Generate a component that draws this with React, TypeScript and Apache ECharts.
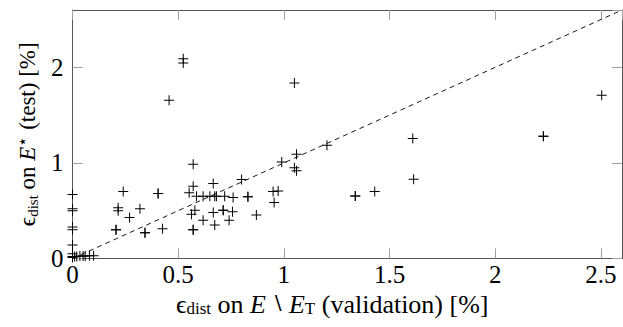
import React, { useEffect, useRef } from "react";
import * as echarts from "echarts";

// Validation error (x) and test error (y), in %
const valErr: number[] = [
  0.524, 0.524, 0.457, 1.05, 2.504, 2.228, 2.228, 1.61, 1.614, 1.204,
  0.99, 1.06, 1.05, 1.06, 0.949, 0.973, 0.954, 0.87, 1.338, 1.338,
  1.43, 0.8, 0.83, 0.83,
  0.571, 0.571, 0.666, 0.405, 0.405, 0.552, 0.587, 0.618, 0.65, 0.673,
  0.681, 0.72, 0.76, 0.579, 0.563, 0.666, 0.713, 0.713, 0.757, 0.618,
  0.673, 0.741, 0.571, 0.571, 0.426,
  0.24, 0.216, 0.216, 0.319, 0.27, 0.206, 0.206, 0.343, 0.343,
  0, 0, 0, 0, 0, 0, 0, 0, 0, 0.01, 0.02,
  0.035, 0.05, 0.06, 0.08, 0.1,
];
const testErr: number[] = [
  2.09, 2.045, 1.655, 1.835, 1.707, 1.28, 1.28, 1.255, 0.83, 1.185,
  1.01, 1.09, 0.95, 0.917, 0.7, 0.705, 0.586, 0.455, 0.655, 0.655,
  0.7, 0.826, 0.645, 0.645,
  0.986, 0.757, 0.785, 0.68, 0.68, 0.687, 0.652, 0.652, 0.652, 0.652,
  0.652, 0.652, 0.638, 0.506, 0.464, 0.48, 0.506, 0.506, 0.488, 0.4,
  0.35, 0.4, 0.3, 0.3, 0.31,
  0.7, 0.53, 0.5, 0.52, 0.43, 0.3, 0.3, 0.27, 0.27,
  0.67, 0.52, 0.5, 0.33, 0.3, 0.14, 0.05, 0.02, 0.01, 0.02, 0.02,
  0.025, 0.025, 0.025, 0.03, 0.03,
];
const diagonal: number[][] = [
  [0, 0],
  [2.6, 2.6],
];
const axisMin = 0;
const axisMax = 2.6;
const xStep = 0.5;
const yStep = 1;

const FONT = "'Liberation Serif', 'DejaVu Serif', serif";
const PLUS = "path://M4.5,0H5.5V4.5H10V5.5H5.5V10H4.5V5.5H0V4.5H4.5Z";

function makeRich(main: number) {
  return {
    sub: { fontFamily: FONT, fontSize: Math.round(main * 0.66), lineHeight: 14, verticalAlign: "bottom" as const, color: "#000" },
    sup: { fontFamily: FONT, fontSize: Math.round(main * 0.74), lineHeight: 14, verticalAlign: "top" as const, color: "#000" },
    it: { fontFamily: FONT, fontSize: main, fontStyle: "italic" as const, color: "#000" },
    sm: { fontFamily: FONT, fontSize: Math.round(main * 0.78), color: "#000" },
    n: { fontFamily: FONT, fontSize: main, color: "#000" },
  };
}

export default function App() {
  const ref = useRef<HTMLDivElement>(null);
  useEffect(() => {
    if (!ref.current) return;
    const chart = echarts.init(ref.current, undefined, { renderer: "svg" });
    const points = valErr.map((x, i) => [x, testErr[i]]);
    const tickStyle = { show: true, inside: true, length: 10, lineStyle: { color: "#a0a0a0", width: 1 } };
    const lineStyle = { show: true, onZero: false, lineStyle: { color: "#555", width: 1 } };
    const labelStyle = { fontFamily: FONT, fontSize: 25, color: "#000", showMaxLabel: false };
    chart.setOption({
      animation: false,
      backgroundColor: "#fff",
      grid: { left: 72.5, right: 1, top: 10, bottom: 68.5, containLabel: false },
      xAxis: [
        {
          type: "value", min: axisMin, max: axisMax, interval: xStep,
          axisLine: lineStyle, axisTick: tickStyle, splitLine: { show: false },
          axisLabel: { ...labelStyle, margin: 3 },
          name: "{n|ϵ}{sub|dist}{n| on }{it|E}{sm| ∖ }{it|E}{sub|T}{n| (validation) [%]}",
          nameLocation: "middle", nameGap: 25,
          nameTextStyle: { rich: makeRich(26), lineHeight: 26, padding: [0, 30, 0, 0] },
        },
        {
          type: "value", position: "top", min: axisMin, max: axisMax, interval: xStep,
          axisLine: lineStyle, axisTick: tickStyle, splitLine: { show: false },
          axisLabel: { show: false },
        },
      ],
      yAxis: [
        {
          type: "value", min: axisMin, max: axisMax, interval: yStep,
          axisLine: lineStyle, axisTick: tickStyle, splitLine: { show: false },
          axisLabel: { ...labelStyle, margin: 9 },
          name: "{n|ϵ}{sub|dist}{n| on }{it|E}{sup|⋆}{n| (test) [%]}",
          nameLocation: "middle", nameGap: 32,
          nameTextStyle: { rich: makeRich(23), lineHeight: 26 },
        },
        {
          type: "value", position: "right", min: axisMin, max: axisMax, interval: yStep,
          axisLine: lineStyle, axisTick: tickStyle, splitLine: { show: false },
          axisLabel: { show: false },
        },
      ],
      series: [
        {
          type: "line",
          data: diagonal,
          symbol: "none",
          lineStyle: { color: "#000", width: 0.9, type: [5, 4] },
          silent: true,
          z: 1,
        },
        {
          type: "scatter",
          data: points,
          symbol: PLUS,
          symbolSize: 10,
          itemStyle: { color: "#000", opacity: 1 },
          clip: false,
          z: 2,
        },
      ],
    });
    return () => chart.dispose();
  }, []);
  return (
    <div
      ref={ref}
      style={{ position: "fixed", left: 0, top: 0, width: 623, height: 327, background: "#fff" }}
    />
  );
}
